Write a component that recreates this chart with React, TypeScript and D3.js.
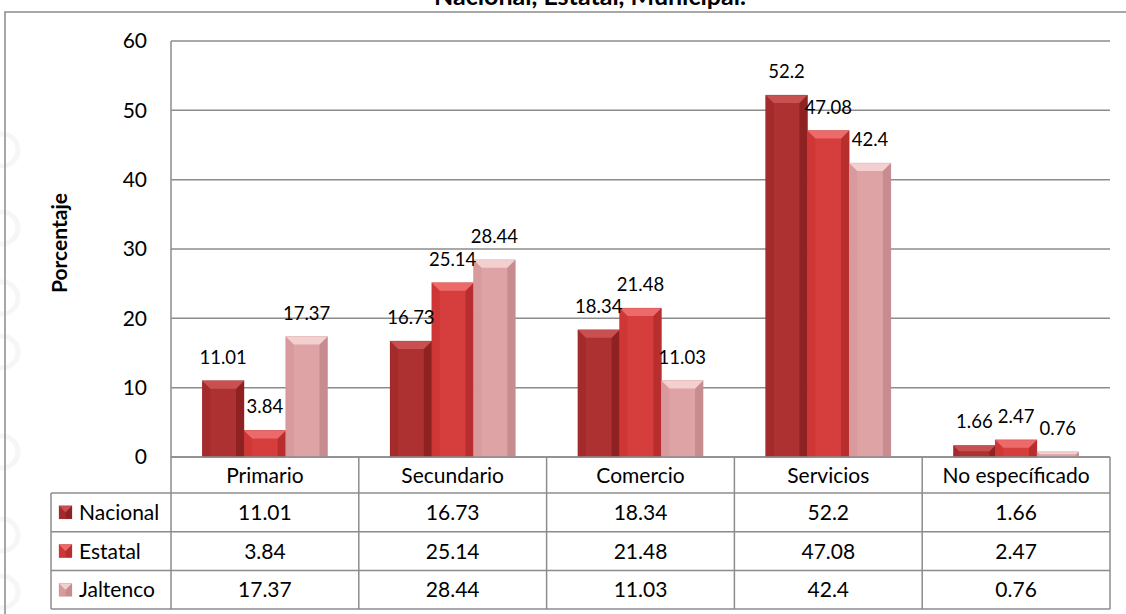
import React from "react";
import * as d3 from "d3";

const categories = ["Primario", "Secundario", "Comercio", "Servicios", "No específicado"];
const seriesNames = ["Nacional", "Estatal", "Jaltenco"];
const nacional = [11.01, 16.73, 18.34, 52.2, 1.66];
const estatal = [3.84, 25.14, 21.48, 47.08, 2.47];
const jaltenco = [17.37, 28.44, 11.03, 42.4, 0.76];
const yTicks = [0, 10, 20, 30, 40, 50, 60];
const title = "Nacional, Estatal, Municipal.";
const yLabel = "Porcentaje";

const seriesValues = [nacional, estatal, jaltenco];

const palette = [
  { body: "#ad3131", light: "#c95050", left: "#a42b2b", right: "#8e2222", bottom: "#8e2222" },
  { body: "#d63d3d", light: "#ec6a6a", left: "#cf3737", right: "#b82d2d", bottom: "#b52a2a" },
  { body: "#dea3a5", light: "#f3cfd0", left: "#d89a9c", right: "#c78c8f", bottom: "#c48a8c" },
];

const FONT = "Lato, 'Open Sans', sans-serif";

const W = 1126;
const H = 614;
const plotL = 171;
const plotR = 1110;
const plotT = 41;
const plotB = 457;
const headerH = 36;
const rowH = 38.7;
const tableL = 51;

function Bar({ x, y, w, h, c }: { x: number; y: number; w: number; h: number; c: typeof palette[0] }) {
  const b = Math.min(8, h / 2, w / 2);
  const x1 = x + w;
  const y1 = y + h;
  return (
    <g>
      <rect x={x} y={y} width={w} height={h} fill={c.body} />
      <polygon points={`${x},${y} ${x + b},${y + b} ${x + b},${y1} ${x},${y1}`} fill={c.left} />
      <polygon points={`${x1},${y} ${x1 - b},${y + b} ${x1 - b},${y1} ${x1},${y1}`} fill={c.right} />
      <polygon points={`${x},${y} ${x1},${y} ${x1 - b},${y + b} ${x + b},${y + b}`} fill={c.light} />
      <rect x={x} y={y} width={w} height={h} fill="none" stroke={c.right} strokeOpacity={0.4} strokeWidth={0.6} />
    </g>
  );
}

export default function App() {
  const y = d3.scaleLinear().domain([0, 60]).range([plotB, plotT]);
  const x0 = d3.scaleBand<string>().domain(categories).range([plotL, plotR]).padding(0);
  const x1 = d3
    .scaleBand<string>()
    .domain(seriesNames)
    .range([0, x0.bandwidth()])
    .paddingInner(0)
    .paddingOuter(0.75);

  const grid = "#8c8c8c";
  const circlesY = [150, 228, 298, 352, 452, 535, 592];
  const tfs = 21;

  return (
    <svg
      width={W}
      height={H}
      style={{ position: "absolute", left: 0, top: 0, background: "#fff" }}
      fontFamily={FONT}
    >
      <rect x={0} y={0} width={W} height={H} fill="#fff" />
      {circlesY.map((cy, i) => (
        <circle key={i} cx={2} cy={cy} r={16} fill="none" stroke="#f6f6f6" strokeWidth={5} />
      ))}
      {/* outer frame */}
      <path d={`M${W + 5},12 H5 V${H + 5}`} fill="none" stroke="#8a8a8a" strokeWidth={1.5} />

      {/* title (cut off at top) */}
      <text x={590} y={5} textAnchor="middle" fontSize={25} fontWeight="bold" fill="#000">
        {title}
      </text>

      {/* gridlines */}
      {yTicks.map((t) => (
        <line key={t} x1={plotL} x2={plotR} y1={y(t)} y2={y(t)} stroke={grid} strokeWidth={1.5} />
      ))}
      <line x1={plotL} x2={plotL} y1={plotT} y2={plotB} stroke={grid} strokeWidth={1.5} />

      {/* y tick labels */}
      {yTicks.map((t) => (
        <text key={t} x={147} y={y(t)} dy="0.35em" textAnchor="end" fontSize={tfs} fill="#000">
          {t}
        </text>
      ))}

      {/* y axis label */}
      <text
        transform={`translate(67,243) rotate(-90)`}
        textAnchor="middle"
        fontSize={21}
        fontWeight="bold"
        fill="#000"
      >
        {yLabel}
      </text>

      {/* bars */}
      {categories.map((cat, ci) => (
        <g key={cat}>
          {seriesNames.map((s, si) => {
            const v = seriesValues[si][ci];
            const bx = (x0(cat) as number) + (x1(s) as number);
            const by = y(v);
            return (
              <Bar key={s} x={bx} y={by} w={x1.bandwidth()} h={plotB - by} c={palette[si]} />
            );
          })}
        </g>
      ))}

      {/* data labels */}
      {categories.map((cat, ci) => (
        <g key={cat + "l"}>
          {seriesNames.map((s, si) => {
            const v = seriesValues[si][ci];
            const bx = (x0(cat) as number) + (x1(s) as number) + x1.bandwidth() / 2;
            return (
              <text key={s} x={bx} y={y(v) - 17} textAnchor="middle" fontSize={18.5} fill="#000">
                {String(v)}
              </text>
            );
          })}
        </g>
      ))}

      {/* data table */}
      <g stroke={grid} strokeWidth={1.5} fill="none">
        {categories.map((cat) => (
          <line key={cat} x1={x0(cat)} x2={x0(cat)} y1={plotB} y2={plotB + headerH + rowH * 3} />
        ))}
        <line x1={plotR} x2={plotR} y1={plotB} y2={plotB + headerH + rowH * 3} />
        <line x1={plotL} x2={plotR} y1={plotB} y2={plotB} />
        <line x1={tableL} x2={tableL} y1={plotB + headerH} y2={plotB + headerH + rowH * 3} />
        {[0, 1, 2, 3].map((r) => (
          <line
            key={r}
            x1={tableL}
            x2={plotR}
            y1={plotB + headerH + rowH * r}
            y2={plotB + headerH + rowH * r}
          />
        ))}
      </g>

      {categories.map((cat) => (
        <text
          key={cat}
          x={(x0(cat) as number) + x0.bandwidth() / 2}
          y={plotB + headerH / 2}
          dy="0.36em"
          textAnchor="middle"
          fontSize={tfs}
          fill="#000"
        >
          {cat}
        </text>
      ))}

      {seriesNames.map((s, si) => {
        const cy = plotB + headerH + rowH * si + rowH / 2;
        return (
          <g key={s}>
            <Bar x={59} y={cy - 6.5} w={13} h={13} c={palette[si]} />
            <text x={79} y={cy} dy="0.36em" fontSize={tfs} fill="#000">
              {s}
            </text>
            {categories.map((cat, ci) => (
              <text
                key={cat}
                x={(x0(cat) as number) + x0.bandwidth() / 2}
                y={cy}
                dy="0.36em"
                textAnchor="middle"
                fontSize={tfs}
                fill="#000"
              >
                {String(seriesValues[si][ci])}
              </text>
            ))}
          </g>
        );
      })}
    </svg>
  );
}
